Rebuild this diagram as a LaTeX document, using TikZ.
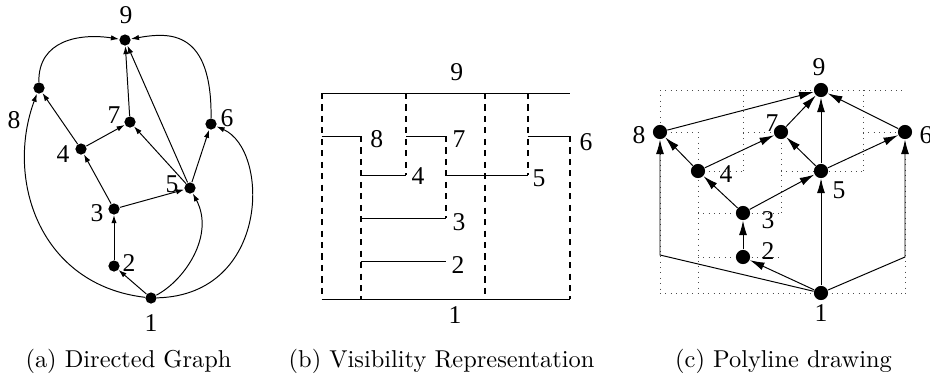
\documentclass[tikz,border=0pt]{standalone}
\usepackage{fontspec}
\newfontfamily\numfont{Liberation Serif}
\usetikzlibrary{arrows.meta}

\tikzset{
  vtx/.style={circle, fill=black, inner sep=0pt, minimum size=4.6pt},
  bigvtx/.style={circle, fill=black, inner sep=0pt, minimum size=5.8pt},
  arc/.style={-{Latex[length=3.3pt,width=2.2pt]}},
  polyarc/.style={-{Latex[length=6pt,width=3.3pt]}},
  numlbl/.style={font=\numfont\fontsize{10.5}{10.5}\selectfont},
  bar/.style={line width=0.4pt},
  vis/.style={line width=0.8pt, dash pattern=on 2.5pt off 2.2pt},
  gridline/.style={line width=0.4pt, black!70, dash pattern=on 0.4pt off 1.8pt},
}

\begin{document}
\begin{tikzpicture}[x=0.41pt, y=-0.41pt]
    \useasboundingbox (0,0) rectangle (930,375);

    % (a) directed graph
    \foreach \n/\x/\y in {9/125/40, 8/39/88, 7/130/122, 6/211/124, 4/81/149,
                          5/190/188, 3/114/209, 2/114/266, 1/151/298}
        \node[vtx] (a\n) at (\x,\y) {};
    \foreach \n/\x/\y in {9/126/15, 8/14/120, 7/114/115, 6/227/118, 4/63/154,
                          5/172/184, 3/97/213, 2/129/263, 1/151/323}
        \node[numlbl] (la\n) at (\x,\y) {\n};

    \foreach \u/\v in {7/9, 5/9, 4/8, 4/7, 5/7, 5/6, 3/4, 3/5, 2/3, 1/2}
        \draw[arc] (a\u) -- (a\v);
    \draw[arc] (a8) .. controls (38,40) and (80,33) .. (a9);
    \draw[arc] (a6) .. controls (212,30) and (170,32) .. (a9);
    \draw[arc] (a1) .. controls (40,285) and (5,180) .. (a8);
    \draw[arc] (a1) .. controls (185,280) and (215,235) .. (a5);
    \draw[arc] (a1) .. controls (270,295) and (270,150) .. (a6);

    % (b) visibility representation
    \foreach \x/\ya/\yb in {321.7/93/299, 360.7/136/299, 406/93/175, 445.7/136/218,
                            485/93/299, 527.7/93/175, 570/136/299}
        \draw[vis] (\x,\ya) -- (\x,\yb);
    \foreach \xa/\xb/\y in {321.7/570/93, 321.7/360.7/136, 406/445.7/136, 527.7/570/136,
                            360.7/406/175, 445.7/527.7/175, 360.7/445.7/218,
                            360.7/445.7/261, 321.7/570/299}
        \draw[bar] (\xa,\y) -- (\xb,\y);
    \foreach \n/\x/\y in {9/456.7/71.7, 8/376.7/139, 7/459/139, 6/586/142, 4/418/176,
                          5/539/178, 3/459/222, 2/458/265, 1/455/315}
        \node[numlbl] (lb\n) at (\x,\y) {\n};

    % (c) polyline drawing
    \foreach \x/\ya/\yb in {660/90/293, 698/132/293, 743/90/171, 781/132/213,
                            821/90/293, 863/90/171, 905/132/293}
        \draw[gridline] (\x,\ya) -- (\x,\yb);
    \foreach \xa/\xb/\y in {660/905/90, 660/698/132, 743/781/132, 863/905/132,
                            698/743/171, 781/863/171, 698/781/213, 698/781/257,
                            660/905/293}
        \draw[gridline] (\xa,\y) -- (\xb,\y);

    \foreach \n/\x/\y in {9/821/90, 8/660/132, 7/781/132, 6/905/132, 4/698/171,
                          5/821/171, 3/743/213, 2/743/257, 1/821/293}
        \node[bigvtx] (c\n) at (\x,\y) {};
    \foreach \n/\x/\y in {9/819/67, 8/639/135, 7/772/123, 6/926/135, 4/726/174,
                          5/839/190, 3/768/220, 2/768/251, 1/821/313}
        \node[numlbl] (lc\n) at (\x,\y) {\n};

    \coordinate (bendl) at (660,255);
    \coordinate (bendr) at (905,257);
    \foreach \u/\v in {8/9, 7/9, 5/9, 6/9, 4/8, 4/7, 5/7, 5/6, 3/4, 3/5, 2/3, 1/2, 1/5}
        \draw[polyarc] (c\u) -- (c\v);
    \draw[polyarc] (c1) -- (bendl) -- (c8);
    \draw[polyarc] (c1) -- (bendr) -- (c6);

    % captions
    \node[anchor=base] (capa) at (128.5,367) {(a) Directed Graph};
    \node[anchor=base] (capb) at (441.5,367) {(b) Visibility Representation};
    \node[anchor=base] (capc) at (783.5,367) {(c) Polyline drawing};
\end{tikzpicture}
\end{document}
